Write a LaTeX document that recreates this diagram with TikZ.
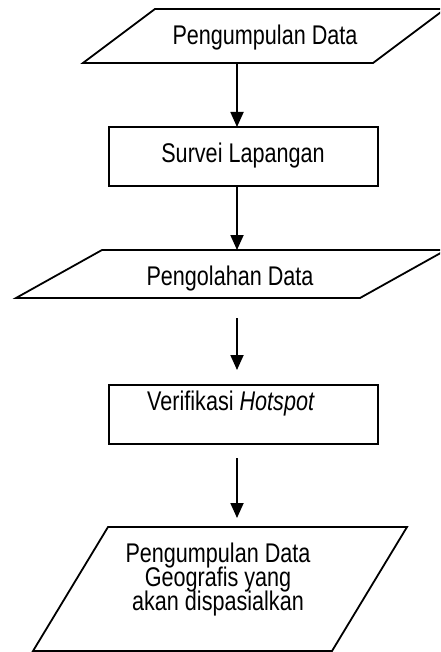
\documentclass[tikz,border=0pt]{standalone}
\usepackage{fontspec}
\setmainfont{Liberation Sans}[FakeStretch=0.8]
\usetikzlibrary{arrows.meta}
% label font with a fixed 24pt line pitch
\newcommand\labelfont{\fontsize{27}{24}\selectfont\lineskiplimit=-100pt\relax}
\begin{document}
\begin{tikzpicture}[x=1pt,y=-1pt,
  box/.style={line width=1.8pt, line join=miter},
  flow/.style={line width=1.8pt, -{Triangle[length=15pt,width=13pt]}},
  lbl/.style={font=\labelfont, anchor=base, inner sep=0pt}]
\clip (0,0) rectangle (440,652);

% process shapes
\draw[box] (155,9) -- (445,9) -- (373,63) -- (83,63) -- cycle;
\draw[box] (109,127) rectangle (378,186);
\draw[box] (102,250) -- (446,250) -- (360,298) -- (16,298) -- cycle;
\draw[box] (109,385) rectangle (378,444);
\draw[box] (108,527) -- (407,527) -- (332,651) -- (33,651) -- cycle;

% labels
\node[lbl] (t1) at (265,45) {Pengumpulan Data};
\node[lbl] (t2) at (243,163) {Survei Lapangan};
\node[lbl] (t3) at (230,285) {Pengolahan Data};
\node[lbl] (t4) at (231,410) {Verifikasi \textit{Hotspot}};
\node[lbl, align=center] (t5) at (218,610)
  {Pengumpulan Data\\Geografis yang\\akan dispasialkan};

% connector ends
\coordinate (a1s) at (237,63);
\coordinate (a1e) at (237,127);
\coordinate (a2s) at (237,186);
\coordinate (a2e) at (237,250);
\coordinate (a3s) at (237,318);
\coordinate (a3e) at (237,370);
\coordinate (a4s) at (237,458);
\coordinate (a4e) at (237,518);

\draw[flow] (a1s) -- (a1e);
\draw[flow] (a2s) -- (a2e);
\draw[flow] (a3s) -- (a3e);
\draw[flow] (a4s) -- (a4e);
\end{tikzpicture}
\end{document}
